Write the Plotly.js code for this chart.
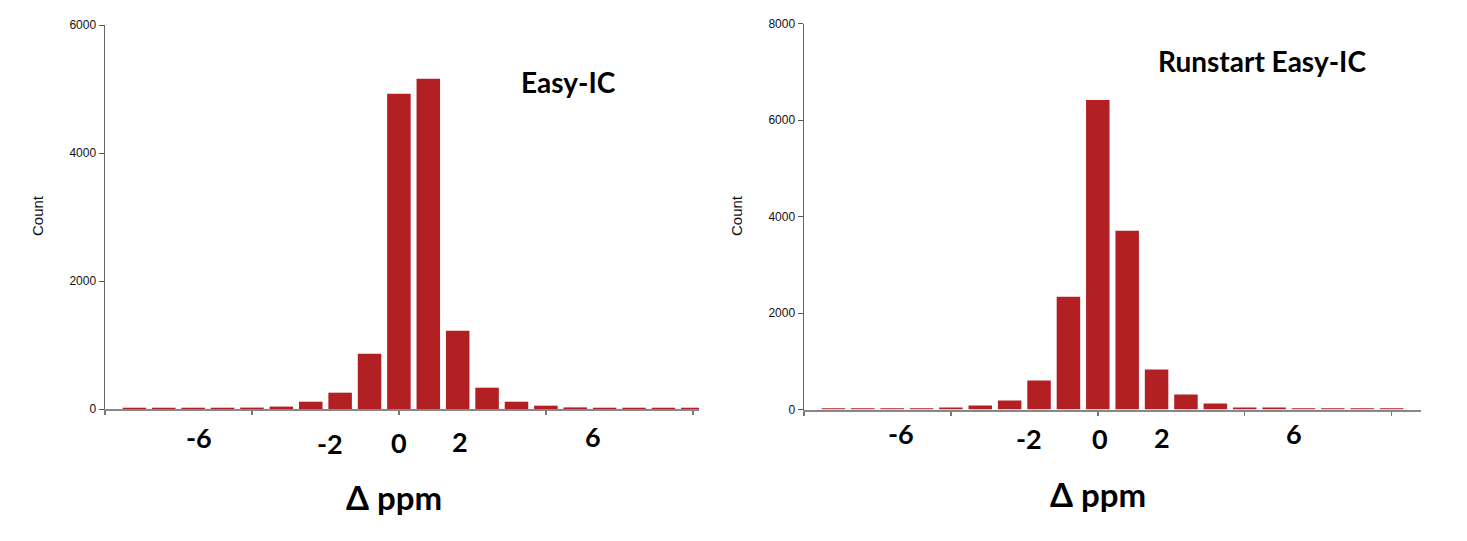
<!DOCTYPE html>
<html>
<head>
<meta charset="utf-8">
<script src="https://cdn.plot.ly/plotly-3.0.1.min.js"></script>
<style>html,body{margin:0;padding:0;background:#fff;}#chart{width:1467px;height:541px;}</style>
</head>
<body>
<div id="chart"></div>
<script>
// Data
const bins = [-9, -8, -7, -6, -5, -4, -3, -2, -1, 0, 1, 2, 3, 4, 5, 6, 7, 8, 9, 10];
const easyIC = [20, 20, 20, 20, 22, 38, 114, 255, 864, 4927, 5161, 1223, 333, 114, 52, 25, 20, 20, 20, 20];
const runstartEasyIC = [25, 25, 25, 25, 40, 83, 186, 600, 2338, 6414, 3703, 828, 310, 124, 41, 41, 25, 25, 25, 25];
const tickLabels = ['-6', '-2', '0', '2', '6'];
const panelTitles = ['Easy-IC', 'Runstart Easy-IC'];
const xTitle = 'Δ ppm';
const yTitle = 'Count';

// Layout helpers (pixel -> paper)
const W = 1467, H = 541;
const px = x => x / W;
const py = y => 1 - y / H;

const barColor = '#B22024';
const traces = [
  {type: 'bar', x: bins, y: easyIC, xaxis: 'x', yaxis: 'y', width: 0.8,
   marker: {color: barColor}, hoverinfo: 'x+y'},
  {type: 'bar', x: bins, y: runstartEasyIC, xaxis: 'x2', yaxis: 'y2', width: 0.8,
   marker: {color: barColor}, hoverinfo: 'x+y'}
];

const xCommon = {
  tickvals: [-10, -5, 0, 5, 10], showticklabels: false, ticks: 'outside', ticklen: 4,
  tickcolor: '#777', tickwidth: 1.5, showline: true, linecolor: '#888', linewidth: 2,
  showgrid: false, zeroline: false, fixedrange: true
};
const yCommon = {
  ticks: 'outside', ticklen: 5, tickcolor: '#555', tickwidth: 1, showline: true,
  linecolor: '#666', linewidth: 1.5, showgrid: false, zeroline: false,
  tickfont: {family: 'Liberation Sans, Arial, sans-serif', size: 12, color: '#111'}, fixedrange: true
};

// label placement (pixel centres) for the hand-placed tick labels
const labelPix = [
  [[199, 437], [330, 443], [399, 442], [460, 441], [593, 436]],
  [[901, 433], [1029, 439], [1100, 439], [1162, 437.5], [1294, 433]]
];
const boldFont = (s) => ({family: 'Lato, Open Sans, sans-serif', size: s, color: '#000', weight: 'bold'});

const annotations = [];
labelPix.forEach((panel, p) => {
  panel.forEach((pos, i) => {
    annotations.push({xref: 'paper', yref: 'paper', x: px(pos[0]), y: py(pos[1]),
      xanchor: 'center', yanchor: 'middle', text: '<b>' + tickLabels[i] + '</b>', showarrow: false, font: boldFont(27)});
  });
});
[[394, 497], [1098, 494]].forEach(pos => {
  annotations.push({xref: 'paper', yref: 'paper', x: px(pos[0]), y: py(pos[1]),
    xanchor: 'center', yanchor: 'middle', text: '<b>' + xTitle + '</b>', showarrow: false, font: boldFont(33)});
});
[[568, 82], [1262, 61]].forEach((pos, i) => {
  annotations.push({xref: 'paper', yref: 'paper', x: px(pos[0]), y: py(pos[1]),
    xanchor: 'center', yanchor: 'middle', text: '<b>' + panelTitles[i] + '</b>', showarrow: false, font: boldFont(28)});
});
[[38, 216], [737, 216]].forEach(pos => {
  annotations.push({xref: 'paper', yref: 'paper', x: px(pos[0]), y: py(pos[1]),
    xanchor: 'center', yanchor: 'middle', textangle: -90, text: yTitle, showarrow: false,
    font: {family: 'Liberation Sans, Arial, sans-serif', size: 15, color: '#111'}});
});

const layout = {
  width: W, height: H, margin: {l: 0, r: 0, t: 0, b: 0},
  paper_bgcolor: '#fff', plot_bgcolor: '#fff', showlegend: false,
  xaxis: Object.assign({}, xCommon, {domain: [px(105), px(699)], range: [-10, 10.21], anchor: 'y'}),
  yaxis: Object.assign({}, yCommon, {domain: [py(409), py(25)], range: [0, 6000], tickvals: [0, 2000, 4000, 6000], anchor: 'x'}),
  xaxis2: Object.assign({}, xCommon, {domain: [px(804), px(1421)], range: [-10, 11], anchor: 'y2'}),
  yaxis2: Object.assign({}, yCommon, {domain: [py(409.5), py(23.5)], range: [0, 8000], tickvals: [0, 2000, 4000, 6000, 8000], anchor: 'x2'}),
  annotations: annotations
};

Plotly.newPlot('chart', traces, layout, {displayModeBar: false, staticPlot: true});
</script>
</body>
</html>
